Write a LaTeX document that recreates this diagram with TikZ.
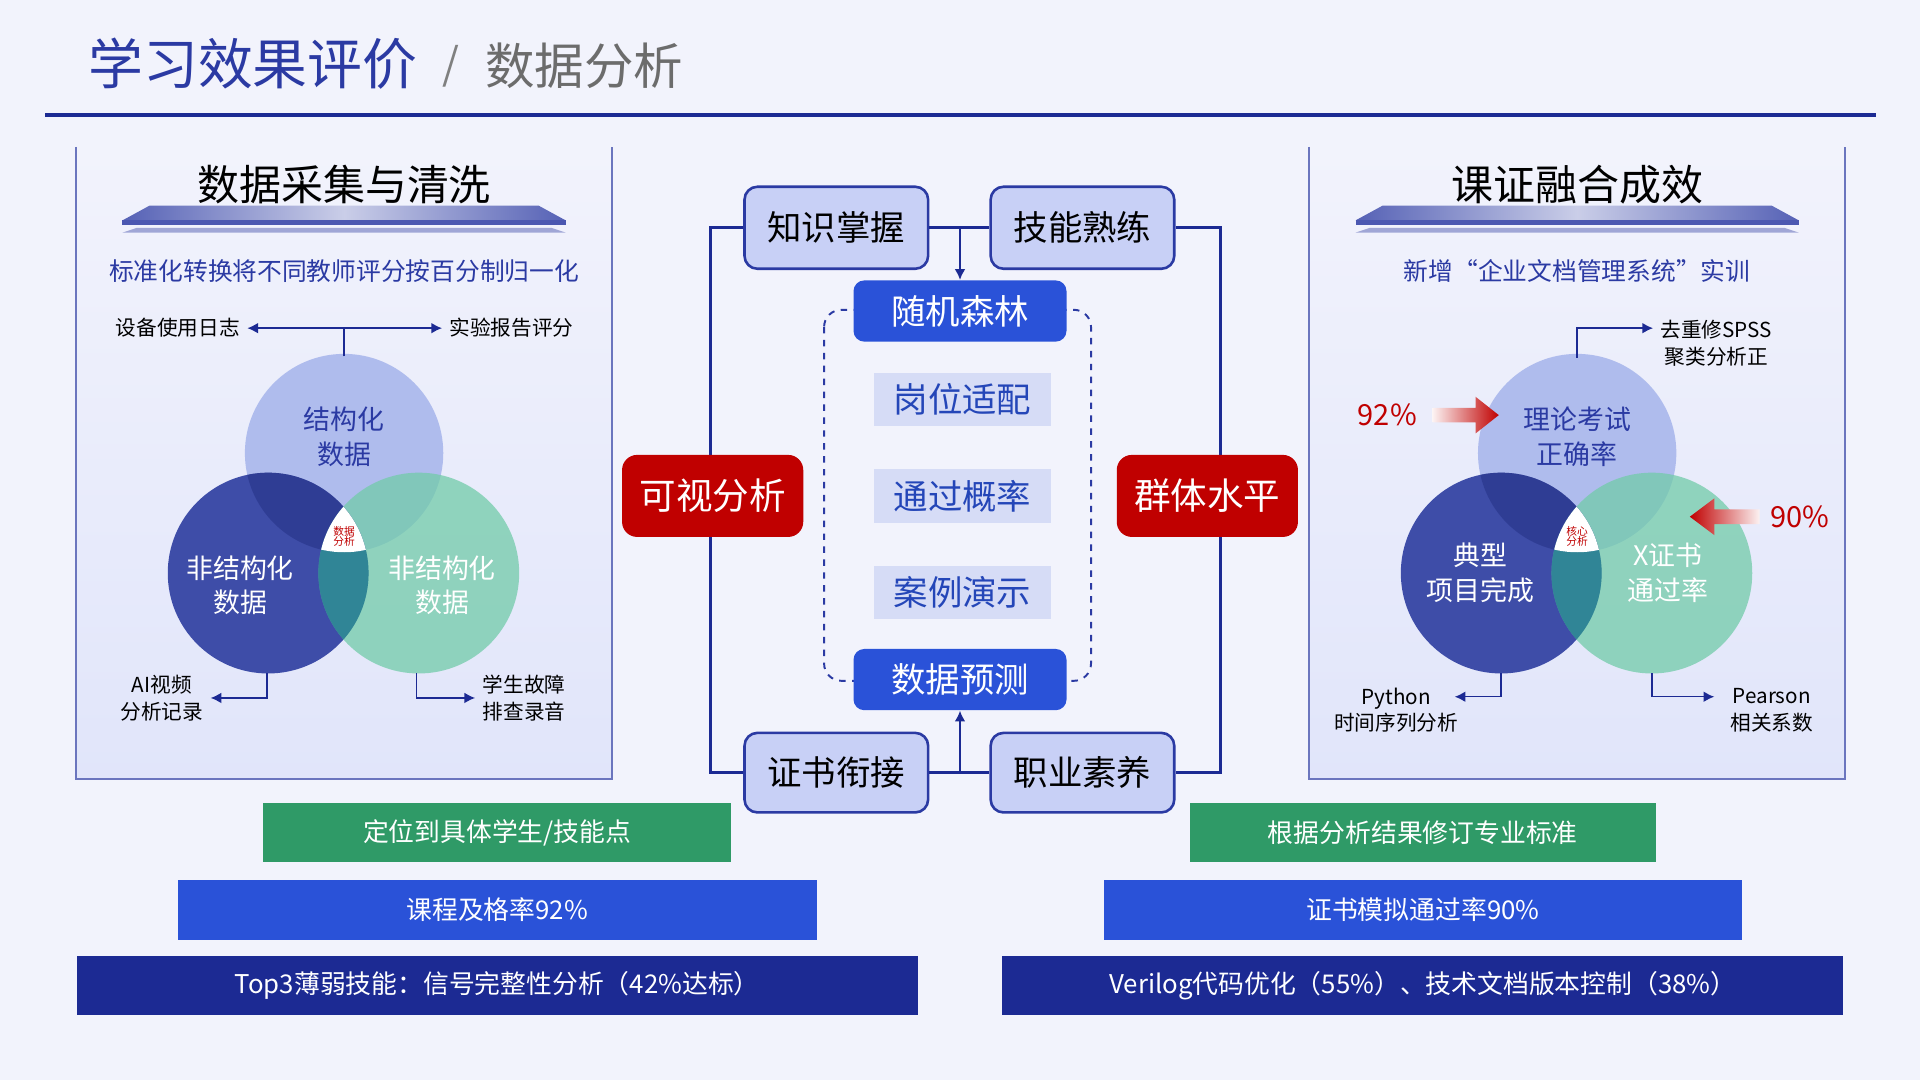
\documentclass[tikz,border=0pt]{standalone}
\usepackage{fontspec}
\setmainfont{Noto Sans CJK SC}
\usetikzlibrary{arrows.meta,shapes.geometric}
\definecolor{bg}{HTML}{F2F3FC}
\definecolor{navy}{HTML}{1C2A93}
\definecolor{tblue}{HTML}{2B3AA3}
\definecolor{vblue}{HTML}{2A52D8}
\definecolor{lav}{HTML}{C8D0F6}
\definecolor{pale}{HTML}{D6DCF6}
\definecolor{dred}{HTML}{C00000}
\definecolor{grn}{HTML}{2F9A67}
\definecolor{topc}{HTML}{A9B7EC}
\definecolor{leftc}{HTML}{3040A2}
\definecolor{rightc}{HTML}{72CBA9}
\newcommand\fsz[1]{\fontsize{#1pt}{#1pt}\selectfont}
\newcommand\fsl[1]{\fontsize{#1pt}{1.3\dimexpr#1pt\relax}\selectfont}
\begin{document}
\begin{tikzpicture}[x=0.02cm,y=-0.02cm,
  lbox/.style={draw=tblue,line width=1.2pt,fill=lav,rounded corners=6pt,font=\fsz{16},text=black},
  bbox/.style={fill=vblue,rounded corners=5pt,font=\fsz{16},text=white},
  pbox/.style={fill=pale,font=\fsz{16},text=vblue!85!black},
  rbox/.style={fill=dred,rounded corners=7pt,font=\fsz{17},text=white},
  conn/.style={draw=navy,line width=1.3pt},
  thin/.style={draw=navy,line width=0.7pt},
  sarr/.style={-{Latex[length=5pt,width=5pt]}},
  small/.style={font=\fsl{9.6},align=center,text=black},
  bar/.style={font=\fsz{12},text=white},
  vt/.style={align=center,font=\fsl{12.5}},
]
\fill[bg] (0,0) rectangle (1568,882);
\useasboundingbox (0,0) rectangle (1568,882);
% title
\node[anchor=west,text=tblue,font=\fsz{25.5}] (t1) at (66,52) {学习效果评价};
\node[anchor=west,text=gray,font=\fsz{20}] (t2) at (355,54) {/};
\node[anchor=west,text=gray!85!black,font=\fsz{23}] (t3) at (390,54) {数据分析};
\draw[navy,line width=2.2pt] (37,94) -- (1532,94);
% panels
\foreach \px in {62,1069}{
  \shade[top color=bg,bottom color=lav!55] (\px,120) rectangle (\px+438,636);
  \draw[tblue!70,line width=0.8pt] (\px,120) -- (\px,636) -- (\px+438,636) -- (\px+438,120);
  \shade[left color=tblue!80,right color=tblue!80,middle color=tblue!25] (\px+38,180) -- (\px+60,168) -- (\px+378,168) -- (\px+400,180) -- cycle;
  \fill[tblue!85] (\px+38,180) rectangle (\px+400,184);
  \fill[tblue!45] (\px+38,190) -- (\px+50,186) -- (\px+388,186) -- (\px+400,190) -- cycle;
}
\node[font=\fsz{19.5}] (lt) at (281,151) {数据采集与清洗};
\node[font=\fsz{19.5}] (rt) at (1288,151) {课证融合成效};
\node[font=\fsz{11.5},text=tblue] (ls) at (281,221) {标准化转换将不同教师评分按百分制归一化};
\node[font=\fsz{11.5},text=tblue] (rs) at (1288,221) {新增“企业文档管理系统”实训};

% Venn macro
\newcommand\venn[3]{%
  \fill[topc,opacity=0.9] (#1,370) circle (81);
  \fill[leftc,opacity=0.92] (#1-62,468) circle (82);
  \fill[rightc,opacity=0.75] (#1+61,468) circle (82);
  \begin{scope}\clip (#1,370) circle (81);\fill[leftc!80!black,opacity=0.5] (#1-62,468) circle (82);\end{scope}
  \begin{scope}\clip (#1-62,468) circle (82);\fill[teal!70!leftc,opacity=0.6] (#1+61,468) circle (82);\end{scope}
  \begin{scope}\clip (#1,370) circle (81);\clip (#1-62,468) circle (82);\fill[white] (#1+61,468) circle (82);\end{scope}
  \node[text=dred,font=\fsz{5},align=center,inner sep=0] (#3) at (#1,438) {#2};
}
\venn{281}{数据\\分析}{lc}
\venn{1288}{核心\\分析}{rc}
\node[vt,text=tblue] (a1) at (281,357) {结构化\\数据};
\node[vt,text=white] (a2) at (196,478) {非结构化\\数据};
\node[vt,text=white] (a3) at (361,478) {非结构化\\数据};
\node[vt,text=tblue] (b1) at (1288,357) {理论考试\\正确率};
\node[vt,text=white] (b2) at (1209,468) {典型\\项目完成};
\node[vt,text=white] (b3) at (1362,468) {X证书\\通过率};

% left callouts
\node[small,anchor=east] (c1) at (202,268) {设备使用日志};
\node[small,anchor=west] (c2) at (361,268) {实验报告评分};
\coordinate (j1) at (281,268);
\coordinate (j1b) at (281,291);
\draw[thin] (j1b) -- (j1);
\draw[thin,sarr] (j1) -- (c1.east);
\draw[thin,sarr] (j1) -- (c2.west);
\node[small,anchor=east] (c3) at (172,570) {AI视频\\分析记录};
\node[small,anchor=west] (c4) at (388,570) {学生故障\\排查录音};
\coordinate (k1) at (218,550); \coordinate (k2) at (340,550);
\draw[thin,sarr] (k1) |- (c3.east);
\draw[thin,sarr] (k2) |- (c4.west);
% right callouts
\node[small,anchor=west] (d1) at (1350,280) {去重修SPSS\\聚类分析正};
\coordinate (m1) at (1288,292);
\draw[thin,sarr] (m1) |- (d1.west|-0,268);
\node[small,anchor=east] (d2) at (1197,580) {Python\\时间序列分析};
\node[small,anchor=west] (d3) at (1407,580) {Pearson\\相关系数};
\coordinate (m2) at (1226,550); \coordinate (m3) at (1349,550);
\draw[thin,sarr] (m2) |- (1188,569);
\draw[thin,sarr] (m3) |- (1400,569);
\node[text=dred,font=\fsz{13.5}] (p92) at (1133,339) {92\%};
\node[text=dred,font=\fsz{13.5}] (p90) at (1470,422) {90\%};
\shade[left color=dred!5,right color=dred] (1170,333) -- (1205,333) -- (1205,324) -- (1224,339) -- (1205,354) -- (1205,345) -- (1170,345) -- cycle;
\shade[right color=dred!5,left color=dred] (1437,416) -- (1400,416) -- (1400,407) -- (1380,422) -- (1400,437) -- (1400,428) -- (1437,428) -- cycle;

% center
\draw[tblue,dashed,line width=0.9pt,rounded corners=8pt] (673,253) rectangle (891,556);
\node[lbox,minimum width=3cm,minimum height=1.34cm] (n1) at (683,186) {知识掌握};
\node[lbox,minimum width=3cm,minimum height=1.34cm] (n2) at (884,186) {技能熟练};
\node[lbox,minimum width=3cm,minimum height=1.3cm] (n3) at (683,631) {证书衔接};
\node[lbox,minimum width=3cm,minimum height=1.3cm] (n4) at (884,631) {职业素养};
\node[bbox,minimum width=3.48cm,minimum height=1cm] (r1) at (784,254) {随机森林};
\node[bbox,minimum width=3.48cm,minimum height=1cm] (r5) at (784,555) {数据预测};
\node[pbox,minimum width=2.88cm,minimum height=0.86cm] (r2) at (786,326) {岗位适配};
\node[pbox,minimum width=2.88cm,minimum height=0.88cm] (r3) at (786,405) {通过概率};
\node[pbox,minimum width=2.88cm,minimum height=0.86cm] (r4) at (786,484) {案例演示};
\draw[conn] (n1.west) -- (580,186) -- (580,631) -- (n3.west);
\draw[conn] (n2.east) -- (997,186) -- (997,631) -- (n4.east);
\draw[conn] (n1.east) -- (n2.west);
\draw[conn] (n3.east) -- (n4.west);
\draw[conn,sarr] (784,186) -- (r1.north);
\draw[conn,sarr] (784,631) -- (r5.south);
\node[rbox,minimum width=2.96cm,minimum height=1.34cm] (v1) at (582,405) {可视分析};
\node[rbox,minimum width=2.96cm,minimum height=1.34cm] (v2) at (986,405) {群体水平};

% bars
\node[bar,fill=grn,minimum width=7.64cm,minimum height=0.96cm] (g1) at (406,680) {定位到具体学生/技能点};
\node[bar,fill=vblue,minimum width=10.44cm,minimum height=0.98cm] (g2) at (406,743) {课程及格率92\%};
\node[bar,fill=navy,minimum width=13.74cm,minimum height=0.96cm] (g3) at (406,805) {Top3薄弱技能：信号完整性分析（42\%达标）};
\node[bar,fill=grn,minimum width=7.62cm,minimum height=0.96cm] (h1) at (1162,680) {根据分析结果修订专业标准};
\node[bar,fill=vblue,minimum width=10.42cm,minimum height=0.98cm] (h2) at (1162,743) {证书模拟通过率90\%};
\node[bar,fill=navy,minimum width=13.74cm,minimum height=0.96cm] (h3) at (1162,805) {Verilog代码优化（55\%）、技术文档版本控制（38\%）};
\end{tikzpicture}
\end{document}
